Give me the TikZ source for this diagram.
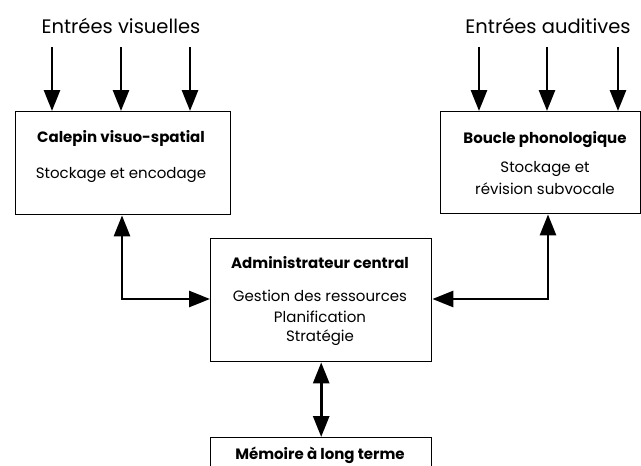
\documentclass[tikz,border=0pt]{standalone}
\usepackage{fontspec}
\setmainfont{Poppins}
\usetikzlibrary{arrows.meta}
\begin{document}
\begin{tikzpicture}[x=1pt,y=-1pt,
  box/.style={draw,line width=1.4pt,inner sep=0pt,anchor=north west},
  conn/.style={line width=2.8pt,line join=miter},
  tip/.style={conn,-{Triangle[length=21pt,width=16pt]}},
  dtip/.style={conn,{Triangle[length=21pt,width=16pt]}-{Triangle[length=21pt,width=16pt]}},
  head/.style={inner sep=0pt,font=\fontsize{19.5}{22}\selectfont},
  ttl/.style={inner sep=0pt,font=\fontsize{15}{17}\selectfont\bfseries},
  txt/.style={inner sep=0pt,font=\fontsize{15}{17}\selectfont}]
\useasboundingbox (0,0) rectangle (641,466);
\clip (0,0) rectangle (641,466);
% boxes
\node[box, minimum width=215pt, minimum height=103pt] (vs) at (15,111) {};
\node[box, minimum width=200pt, minimum height=102pt] (ph) at (440,111) {};
\node[box, minimum width=221pt, minimum height=123pt] (ce) at (210,238) {};
\node[box, minimum width=221pt, minimum height=60pt] (mlt) at (210,437) {};
% texts
\node[head] (hv) at (121,26) {Entrées visuelles};
\node[head] (ha) at (548,26) {Entrées auditives};
\node[ttl] (t1) at (121,138) {Calepin visuo-spatial};
\node[txt] (t2) at (121,175) {Stockage et encodage};
\node[ttl] (t3) at (545,140) {Boucle phonologique};
\node[txt] (t4) at (545,169) {Stockage et};
\node[txt] (t5) at (545,189) {révision subvocale};
\node[ttl] (t6) at (320,263) {Administrateur central};
\node[txt] (t7) at (320,296) {Gestion des ressources};
\node[txt] (t8) at (320,317) {Planification};
\node[txt] (t9) at (320,338) {Stratégie};
\node[ttl] (t10) at (320,455) {Mémoire à long terme};
% input arrows
\coordinate (v1) at (52,47);
\coordinate (v2) at (121,47);
\coordinate (v3) at (190,47);
\coordinate (a1) at (479,47);
\coordinate (a2) at (547,47);
\coordinate (a3) at (618,47);
\foreach \c in {v1,v2,v3} \draw[tip] (\c) -- (\c |- vs.north);
\foreach \c in {a1,a2,a3} \draw[tip] (\c) -- (\c |- ph.north);
% connectors
\coordinate (lc) at (122,299);
\coordinate (rc) at (548,299);
\draw[dtip] (lc |- vs.south) -- (lc) -- (lc -| ce.west);
\draw[dtip] (rc |- ph.south) -- (rc) -- (rc -| ce.east);
\draw[dtip] (ce.south) -- (mlt.north);
\end{tikzpicture}
\end{document}
